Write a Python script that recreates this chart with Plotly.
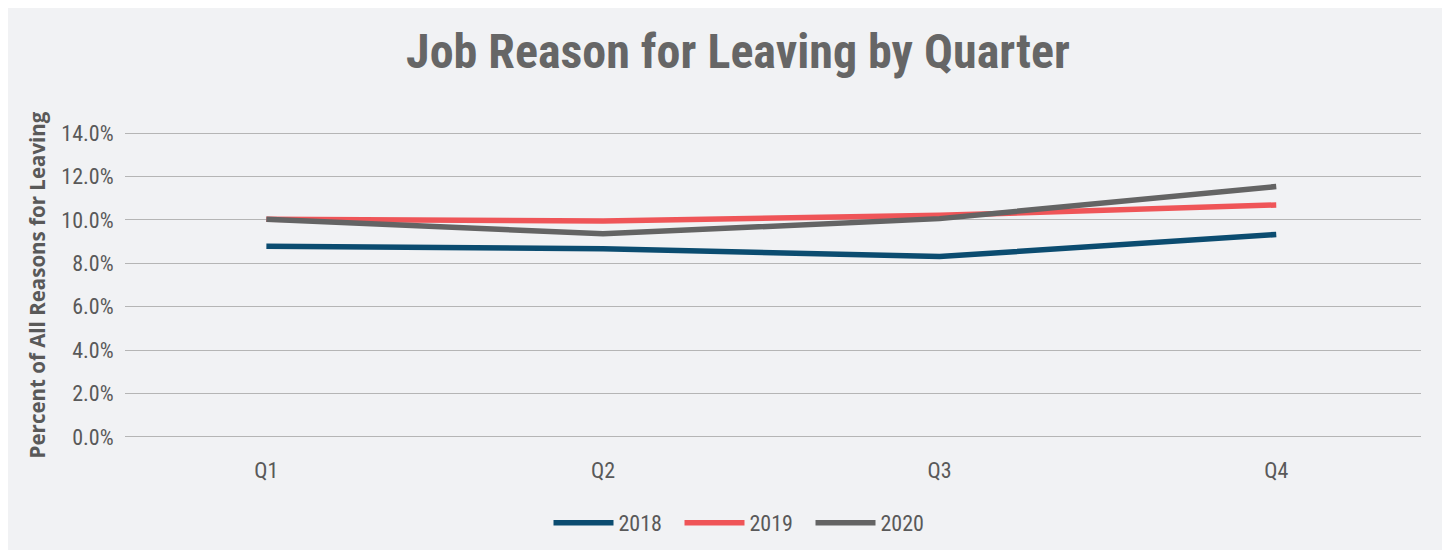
import plotly.graph_objects as go

# quarters along the x axis
QUARTERS = ["Q1", "Q2", "Q3", "Q4"]

# share of all reasons for leaving, per year (fraction)
SHARE_2018 = [0.0879, 0.0867, 0.0831, 0.0933]
SHARE_2019 = [0.1003, 0.0995, 0.1021, 0.1069]
SHARE_2020 = [0.1003, 0.0936, 0.1006, 0.1154]

SERIES = [
    ("2018", SHARE_2018, "#0b4c70"),
    ("2019", SHARE_2019, "#ef5558"),
    ("2020", SHARE_2020, "#646464"),
]

COND = "Roboto Condensed, Liberation Sans Narrow, Roboto, sans-serif"
WIDE = "Open Sans, Noto Sans, sans-serif"
BG = "#f1f2f4"
TXT = "#595959"

# page body adds an 8px offset, so the figure is sized to fit inside it
W, H = 1439, 542
L, R, T, B = 117, 26, 123, 111
plot_w = W - L - R
plot_h = H - T - B

fig = go.Figure()
for name, vals, color in SERIES:
    fig.add_trace(
        go.Scatter(
            x=list(range(len(QUARTERS))),
            y=vals,
            name=name,
            mode="lines",
            line=dict(color=color, width=5.5),
        )
    )

fig.update_layout(
    width=W,
    height=H,
    margin=dict(l=L, r=R, t=T, b=B, autoexpand=False),
    paper_bgcolor=BG,
    plot_bgcolor=BG,
    font=dict(family=COND, color=TXT, size=22),
    title=dict(
        text="<b>Job Reason for Leaving by Quarter</b>",
        x=730 / W,
        xanchor="center",
        y=1 - 43 / H,
        yanchor="middle",
        font=dict(family=COND, size=48, color="#666666"),
    ),
    legend=dict(
        orientation="h",
        x=(737 - L) / plot_w,
        xanchor="center",
        y=-(515 - T - plot_h) / plot_h,
        yanchor="middle",
        font=dict(family=COND, size=22, color=TXT),
        itemwidth=60,
        entrywidth=56,
        bgcolor="rgba(0,0,0,0)",
    ),
    showlegend=True,
)

fig.update_xaxes(
    tickmode="array",
    tickvals=list(range(len(QUARTERS))),
    ticktext=QUARTERS,
    range=[-0.42, 3.43],
    showgrid=False,
    zeroline=False,
    showline=False,
    automargin=False,
    ticks="outside",
    ticklen=12,
    tickcolor="rgba(0,0,0,0)",
    tickfont=dict(family=COND, size=22, color=TXT),
)

fig.update_yaxes(
    range=[-0.001, 0.141],
    tickvals=[0, 0.02, 0.04, 0.06, 0.08, 0.10, 0.12, 0.14],
    tickformat=".1%",
    showgrid=True,
    gridcolor="#b5b5b5",
    gridwidth=1.3,
    zeroline=False,
    showline=False,
    automargin=False,
    ticks="outside",
    ticklen=6,
    tickcolor="rgba(0,0,0,0)",
    tickfont=dict(family=COND, size=22, color=TXT),
    title=dict(
        text="<b>Percent of All Reasons for Leaving</b>",
        font=dict(family=WIDE, size=20.5, color=TXT),
        standoff=10,
    ),
)

fig.write_html("out.html")
